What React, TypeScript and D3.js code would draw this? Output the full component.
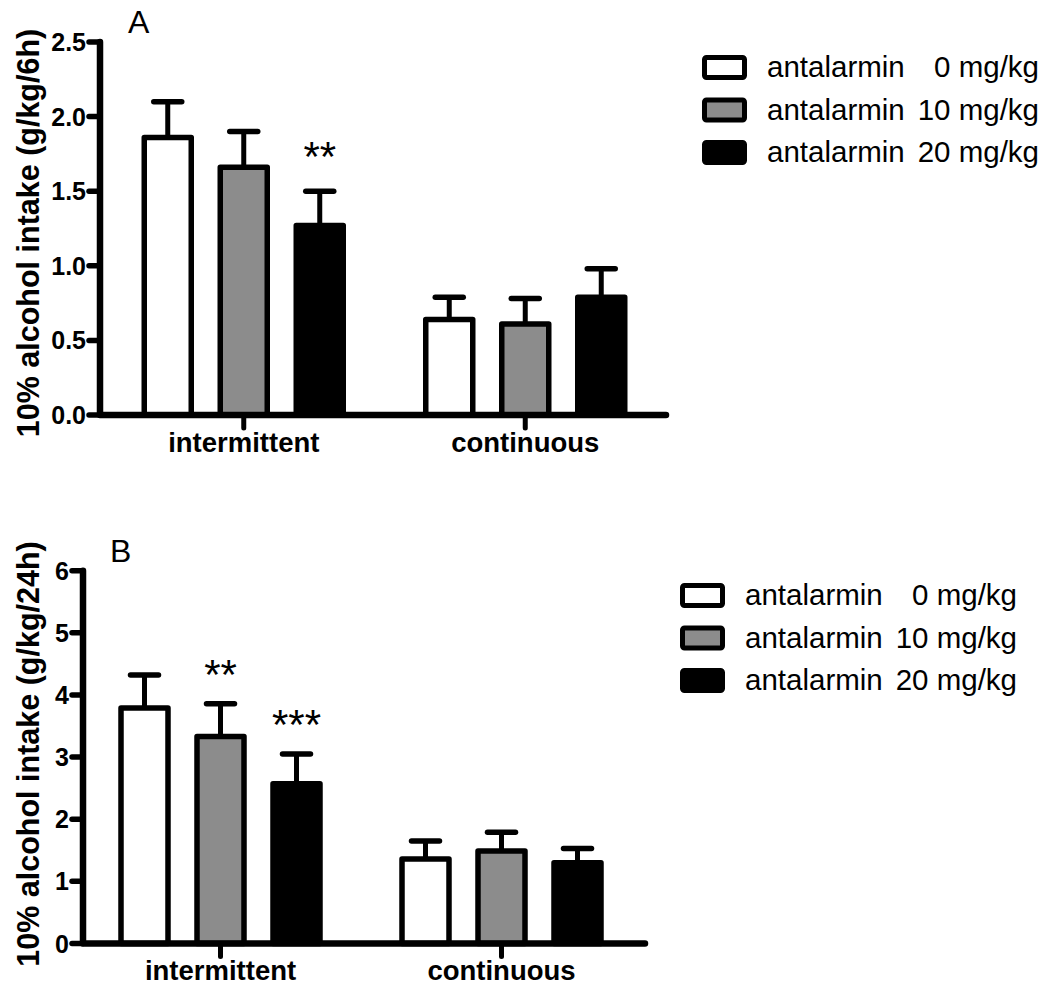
import React from "react";
import * as d3 from "d3";

const groups = ["intermittent", "continuous"];
const drug = "antalarmin";
const doses = ["0 mg/kg", "10 mg/kg", "20 mg/kg"];
const fills = ["#ffffff", "#8c8c8c", "#000000"];

const meansA = [[1.86, 1.66, 1.27], [0.64, 0.61, 0.79]];
const semA = [[0.24, 0.24, 0.23], [0.15, 0.17, 0.19]];
const starsA = [["", "", "**"], ["", "", ""]];
const ticksA = [0, 0.5, 1, 1.5, 2, 2.5];

const meansB = [[3.79, 3.33, 2.57], [1.36, 1.49, 1.30]];
const semB = [[0.53, 0.53, 0.48], [0.29, 0.30, 0.23]];
const starsB = [["", "**", "***"], ["", "", ""]];
const ticksB = [0, 1, 2, 3, 4, 5, 6];

const FONT = "'Liberation Sans', Arial, Helvetica, sans-serif";

type PanelProps = {
  letter: string;
  letterX: number;
  letterY: number;
  yLabel: string;
  yLabelY: number;
  ticks: number[];
  fmt: (v: number) => string;
  axisX: number;
  y0: number;
  yTop: number;
  xEnd: number;
  band: [number, number];
  labelY: number;
  means: number[][];
  sem: number[][];
  stars: string[][];
  starOffset: number;
  legX: number;
  legY: number;
  legTextX: number;
  legTextRight: number;
};

function Panel(p: PanelProps) {
  const yMax = p.ticks[p.ticks.length - 1];
  const y = d3.scaleLinear().domain([0, yMax]).range([p.y0, p.yTop]);
  const gx = d3.scaleBand<string>().domain(groups).range(p.band).padding(0);
  const sx = d3.scalePoint<number>().domain([0, 1, 2]).range([-76, 76]);
  const barW = 47;
  const sw = 5.5;
  return (
    <g>
      <text x={p.letterX} y={p.letterY} fontSize={32} fontFamily={FONT}>
        {p.letter}
      </text>
      <text
        transform={`translate(28,${p.yLabelY}) rotate(-90)`}
        textAnchor="middle"
        dominantBaseline="central"
        fontSize={30.5}
        fontWeight="bold"
        fontFamily={FONT}
      >
        {p.yLabel}
      </text>
      {groups.map((g, gi) => {
        const c0 = (gx(g) as number) + gx.bandwidth() / 2;
        return (
          <g key={g}>
            {p.means[gi].map((m, si) => {
              const c = c0 + (sx(si) as number);
              const top = y(m);
              const et = y(m + p.sem[gi][si]);
              return (
                <g key={si}>
                  <line x1={c} x2={c} y1={top} y2={et} stroke="#000" strokeWidth={5} />
                  <line x1={c - 14} x2={c + 14} y1={et} y2={et} stroke="#000" strokeWidth={5.5} strokeLinecap="round" />
                  <rect
                    x={c - barW / 2}
                    y={top}
                    width={barW}
                    height={p.y0 - top}
                    fill={fills[si]}
                    stroke="#000"
                    strokeWidth={sw}
                    strokeLinejoin="round"
                  />
                  {p.stars[gi][si] ? (
                    <text x={c} y={et - p.starOffset} textAnchor="middle" fontSize={42} fontFamily={FONT}>
                      {p.stars[gi][si]}
                    </text>
                  ) : null}
                </g>
              );
            })}
            <line x1={c0} x2={c0} y1={p.y0} y2={p.y0 + 13} stroke="#000" strokeWidth={5} strokeLinecap="round" />
            <text x={c0} y={p.labelY} textAnchor="middle" fontSize={27.5} fontWeight="bold" fontFamily={FONT}>
              {g}
            </text>
          </g>
        );
      })}
      <path
        d={`M${p.axisX},${p.yTop} V${p.y0} H${p.xEnd}`}
        fill="none"
        stroke="#000"
        strokeWidth={6.5}
        strokeLinecap="round"
        strokeLinejoin="round"
      />
      {p.ticks.map((t) => (
        <g key={t}>
          <line x1={p.axisX - 11} x2={p.axisX} y1={y(t)} y2={y(t)} stroke="#000" strokeWidth={5.5} strokeLinecap="round" />
          <text
            x={p.axisX - 14}
            y={y(t)}
            textAnchor="end"
            dominantBaseline="central"
            fontSize={25}
            fontWeight="bold"
            fontFamily={FONT}
          >
            {p.fmt(t)}
          </text>
        </g>
      ))}
      {doses.map((d, i) => {
        const ry = p.legY + i * 42.5;
        return (
          <g key={d}>
            <rect
              x={p.legX + 2.5}
              y={ry + 2.5}
              width={40}
              height={20}
              fill={fills[i]}
              stroke="#000"
              strokeWidth={5}
              rx={2}
              strokeLinejoin="round"
            />
            <text x={p.legTextX} y={ry + 22} fontSize={29.5} fontFamily={FONT}>
              {drug}
            </text>
            <text x={p.legTextRight} y={ry + 22} textAnchor="end" fontSize={29.5} fontFamily={FONT}>
              {d}
            </text>
          </g>
        );
      })}
    </g>
  );
}

export default function App() {
  return (
    <svg
      width={1050}
      height={991}
      style={{ position: "absolute", left: 0, top: 0, background: "#fff" }}
    >
      <rect width={1050} height={991} fill="#fff" />
      <Panel
        letter="A"
        letterX={128}
        letterY={33}
        yLabel="10% alcohol intake (g/kg/6h)"
        yLabelY={233}
        ticks={ticksA}
        fmt={d3.format(".1f")}
        axisX={100}
        y0={415}
        yTop={42}
        xEnd={666}
        band={[103, 666]}
        labelY={452}
        means={meansA}
        sem={semA}
        stars={starsA}
        starOffset={20}
        legX={702}
        legY={55}
        legTextX={767}
        legTextRight={1039}
      />
      <Panel
        letter="B"
        letterX={110}
        letterY={562}
        yLabel="10% alcohol intake (g/kg/24h)"
        yLabelY={754}
        ticks={ticksB}
        fmt={d3.format("d")}
        axisX={83}
        y0={943.5}
        yTop={570.7}
        xEnd={645}
        band={[80, 642]}
        labelY={980}
        means={meansB}
        sem={semB}
        stars={starsB}
        starOffset={15}
        legX={680}
        legY={583}
        legTextX={745}
        legTextRight={1017}
      />
    </svg>
  );
}
